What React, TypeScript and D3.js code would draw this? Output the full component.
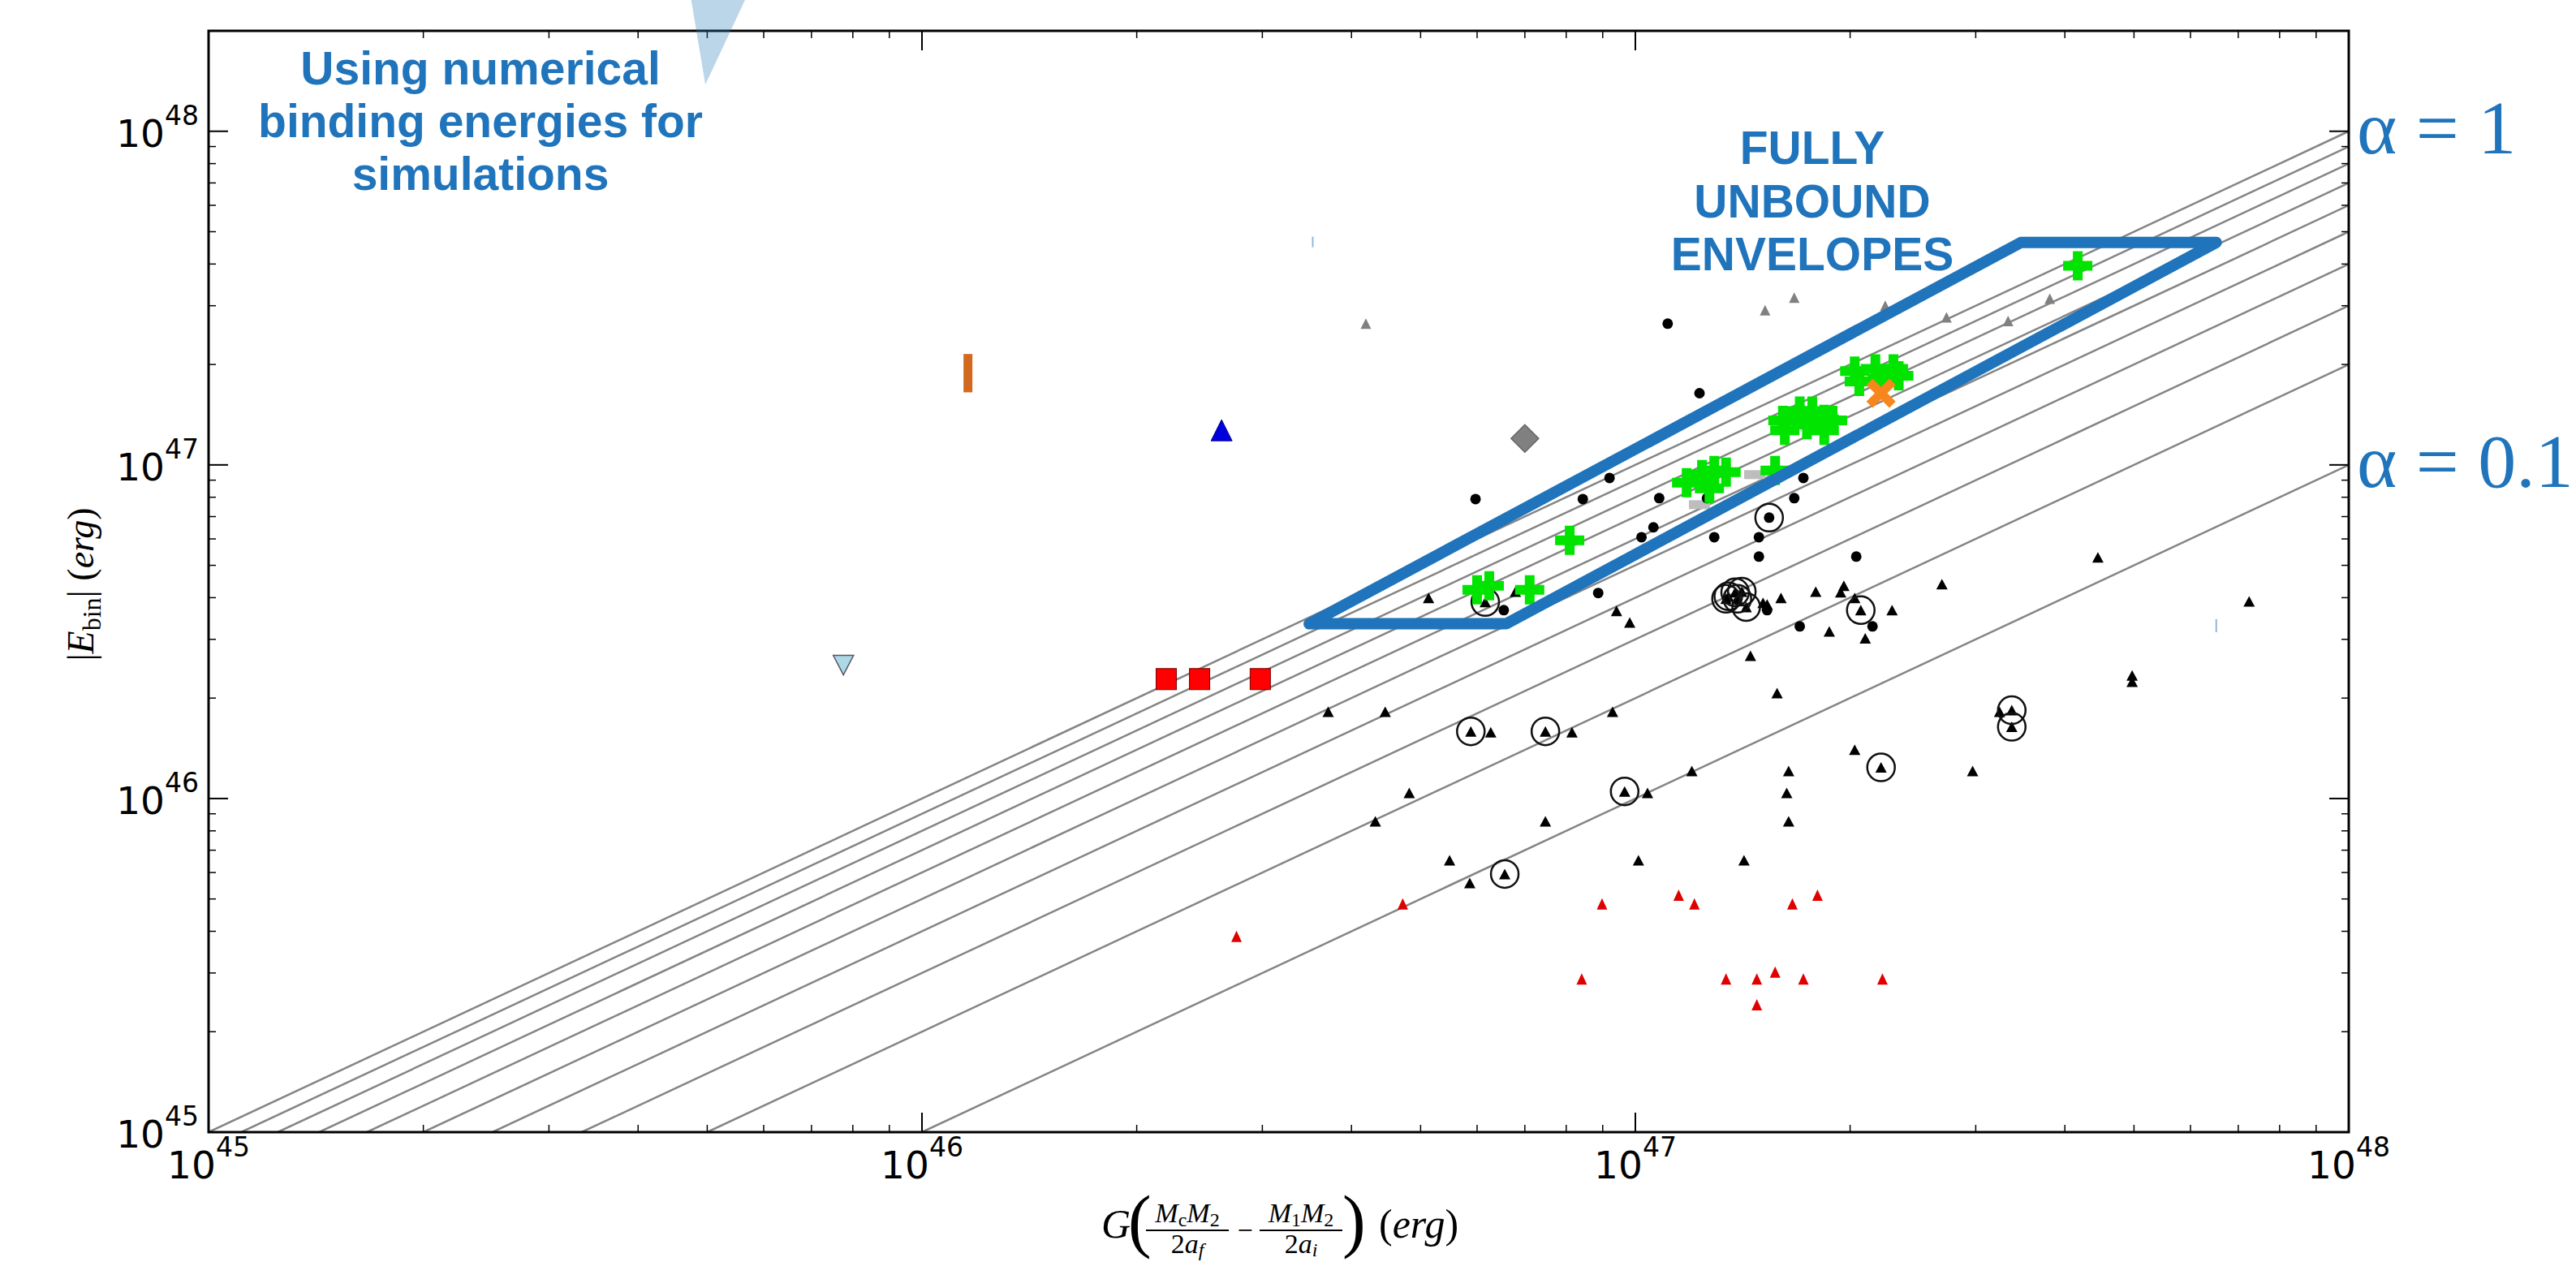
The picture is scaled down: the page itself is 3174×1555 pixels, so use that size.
import React from 'react';
import * as d3 from 'd3';

const WIDTH = 3174;
const HEIGHT = 1555;
const PLOT = { left: 257, right: 2894, top: 38, bottom: 1395 };

const X_DOMAIN: [number, number] = [1e45, 1e48];
const Y_DOMAIN: [number, number] = [1e45, 2e48];

const majorTicks = [1e45, 1e46, 1e47, 1e48];
const tickExponents = ['45', '46', '47', '48'];
const alphaValues = [0.1, 0.2, 0.3, 0.4, 0.5, 0.6, 0.7, 0.8, 0.9, 1.0];
const alphaLabels: [string, number][] = [['α = 1', 1e48], ['α = 0.1', 1e47]];

const blackDots: [number, number][] = [
  [1.11e47, 2.65e47], [1.23e47, 1.64e47], [5.97e46, 7.90e46], [8.44e46, 7.90e46],
  [9.20e46, 9.14e46], [1.08e47, 7.95e46], [1.26e47, 7.95e46], [1.06e47, 6.50e46],
  [1.02e47, 6.07e46], [1.29e47, 6.07e46], [1.49e47, 6.07e46], [1.49e47, 5.31e46],
  [1.72e47, 9.14e46], [1.67e47, 7.95e46], [8.87e46, 4.13e46], [6.54e46, 3.67e46],
  [2.04e47, 5.31e46], [1.53e47, 3.67e46], [1.70e47, 3.28e46], [2.15e47, 3.28e46],
  [1.54e47, 6.95e46],
];
const circledDots: [number, number][] = [[1.54e47, 6.95e46]];

const blackTriangles: [number, number][] = [
  [5.13e46, 3.99e46], [6.16e46, 3.88e46], [6.79e46, 4.17e46], [9.41e46, 3.65e46],
  [9.82e46, 3.37e46], [1.35e47, 4.04e46], [1.38e47, 4.15e46], [1.41e47, 4.17e46],
  [1.39e47, 3.97e46], [1.43e47, 3.75e46], [1.34e47, 3.97e46], [1.51e47, 3.86e46],
  [1.53e47, 3.82e46], [1.60e47, 3.99e46], [1.79e47, 4.17e46], [1.96e47, 4.34e46],
  [1.94e47, 4.15e46], [2.03e47, 3.99e46], [2.07e47, 3.67e46], [2.29e47, 3.67e46],
  [1.87e47, 3.17e46], [2.10e47, 3.02e46], [1.45e47, 2.68e46], [1.58e47, 2.07e46],
  [4.45e47, 5.28e46], [7.25e47, 3.90e46], [2.69e47, 4.39e46], [4.97e47, 2.34e46],
  [4.97e47, 2.24e46], [3.71e46, 1.82e46], [4.46e46, 1.82e46], [9.29e46, 1.82e46],
  [5.88e46, 1.59e46], [6.27e46, 1.58e46], [7.48e46, 1.59e46], [8.15e46, 1.58e46],
  [3.37e47, 1.84e46], [3.37e47, 1.64e46], [3.24e47, 1.82e46], [2.03e47, 1.40e46],
  [2.21e47, 1.24e46], [2.97e47, 1.21e46], [1.20e47, 1.21e46], [1.64e47, 1.21e46],
  [4.82e46, 1.04e46], [9.66e46, 1.05e46], [1.04e47, 1.04e46], [1.63e47, 1.04e46],
  [4.32e46, 8.55e45], [7.48e46, 8.55e45], [1.64e47, 8.55e45], [5.49e46, 6.53e45],
  [1.01e47, 6.53e45], [1.42e47, 6.53e45], [6.56e46, 5.94e45], [5.86e46, 5.58e45],
];
const circledTriangles: [number, number][] = [
  [6.16e46, 3.88e46], [1.35e47, 4.04e46], [1.38e47, 4.15e46], [1.41e47, 4.17e46],
  [1.39e47, 3.97e46], [1.43e47, 3.75e46], [1.34e47, 3.97e46], [2.07e47, 3.67e46],
  [5.88e46, 1.59e46], [7.48e46, 1.59e46], [3.37e47, 1.84e46], [3.37e47, 1.64e46],
  [2.21e47, 1.24e46], [9.66e46, 1.05e46], [6.56e46, 5.94e45],
];

const redTriangles: [number, number][] = [
  [4.72e46, 4.83e45], [8.98e46, 4.83e45], [1.15e47, 5.13e45], [1.21e47, 4.83e45],
  [1.66e47, 4.83e45], [1.80e47, 5.13e45], [2.76e46, 3.86e45], [8.41e46, 2.88e45],
  [1.34e47, 2.88e45], [1.48e47, 2.88e45], [1.57e47, 3.02e45], [1.72e47, 2.88e45],
  [2.22e47, 2.88e45], [1.48e47, 2.41e45],
];
const grayTriangles: [number, number][] = [
  [4.19e46, 2.65e47], [1.52e47, 2.91e47], [1.67e47, 3.17e47], [2.24e47, 3.00e47],
  [2.73e47, 2.77e47], [3.33e47, 2.70e47], [3.81e47, 3.15e47],
];
const greenPluses: [number, number][] = [
  [4.17e47, 3.95e47], [7.11e46, 4.22e46], [6.00e46, 4.22e46], [6.24e46, 4.34e46],
  [8.09e46, 5.94e46], [1.57e47, 9.62e46], [1.18e47, 8.84e46], [1.24e47, 9.35e46],
  [1.29e47, 9.62e46], [1.34e47, 9.51e46], [1.27e47, 8.50e46], [1.61e47, 1.36e47],
  [1.70e47, 1.45e47], [1.77e47, 1.45e47], [1.84e47, 1.37e47], [1.74e47, 1.32e47],
  [1.89e47, 1.36e47], [1.62e47, 1.27e47], [1.84e47, 1.27e47], [2.03e47, 1.91e47],
  [2.17e47, 1.94e47], [2.30e47, 1.94e47], [2.34e47, 1.85e47], [2.06e47, 1.78e47],
  [2.22e47, 1.81e47],
];
const orangeCrosses: [number, number][] = [[2.21e47, 1.64e47]];
const grayDiamonds: [number, number][] = [[7.00e46, 1.20e47]];
const blueTriangles: [number, number][] = [[2.63e46, 1.27e47]];
const lightBlueDownTriangles: [number, number][] = [[7.76e45, 2.51e46]];
const redSquares: [number, number][] = [[2.20e46, 2.28e46], [2.45e46, 2.28e46], [2.98e46, 2.28e46]];
const orangeBars: [number, number, number][] = [[1.16e46, 1.65e47, 2.15e47]];
const grayBars: [number, number][] = [[1.47e47, 9.35e46], [1.23e47, 7.60e46]];
const blueTicks: [number, number, number][] = [[3.53e46, 4.49e47, 4.83e47], [6.52e47, 3.15e46, 3.45e46]];
const envelopeBox: [number, number][] = [[3.49e46, 3.34e46], [6.59e46, 3.34e46], [6.52e47, 4.64e47], [3.47e47, 4.64e47]];
const pointerShape: [number, number][] = [[4.73e45, 2.6e48], [5.71e45, 2.6e48], [4.97e45, 1.38e48]];

const simulationNote = ['Using numerical', 'binding energies for', 'simulations'];
const envelopeNote = ['FULLY', 'UNBOUND', 'ENVELOPES'];

const BLUE = '#1f74bb';

const tri = (b: number, h: number) => `M0,${-h / 2}L${b / 2},${h / 2}L${-b / 2},${h / 2}Z`;
const triDown = (b: number, h: number) => `M0,${h / 2}L${b / 2},${-h / 2}L${-b / 2},${-h / 2}Z`;
const plus = (s: number, a: number) =>
  `M${-a / 2},${-s / 2}H${a / 2}V${-a / 2}H${s / 2}V${a / 2}H${a / 2}V${s / 2}H${-a / 2}V${a / 2}H${-s / 2}V${-a / 2}H${-a / 2}Z`;

export default function App() {
  const x = d3.scaleLog().domain(X_DOMAIN).range([PLOT.left, PLOT.right]);
  const y = d3.scaleLog().domain(Y_DOMAIN).range([PLOT.bottom, PLOT.top]);
  const minor: number[] = [];
  for (let e = 45; e < 48; e++) for (let k = 2; k <= 9; k++) minor.push(k * Math.pow(10, e));
  const line = d3.line<[number, number]>().x((d) => x(d[0])).y((d) => y(d[1]));

  const serif = "'Liberation Serif', 'Times New Roman', serif";
  const sans = "'DejaVu Sans', sans-serif";

  return (
    <svg width={WIDTH} height={HEIGHT} style={{ position: 'absolute', left: 0, top: 0, background: '#fff' }}>
      <rect x={0} y={0} width={WIDTH} height={HEIGHT} fill="#fff" />
      <defs>
        <clipPath id="plotclip">
          <rect x={PLOT.left} y={PLOT.top} width={PLOT.right - PLOT.left} height={PLOT.bottom - PLOT.top} />
        </clipPath>
      </defs>
      <g clipPath="url(#plotclip)">
        {alphaValues.map((a) => (
          <path key={a} d={line([[1e45 / a, 1e45], [1e48, a * 1e48]]) || ''} stroke="#858585" strokeWidth={2.5} fill="none" />
        ))}
        {grayBars.map((d, i) => (
          <rect key={'gb' + i} x={x(d[0]) - 13} y={y(d[1]) - 5.5} width={26} height={11} fill="#bdbdbd" />
        ))}
        {grayTriangles.map((d, i) => (
          <path key={'gt' + i} d={tri(13, 13)} transform={`translate(${x(d[0])},${y(d[1])})`} fill="#808080" />
        ))}
        {redTriangles.map((d, i) => (
          <path key={'rt' + i} d={tri(13, 14)} transform={`translate(${x(d[0])},${y(d[1])})`} fill="#e00000" />
        ))}
        {blackTriangles.map((d, i) => (
          <path key={'bt' + i} d={tri(14, 13)} transform={`translate(${x(d[0])},${y(d[1])})`} fill="#000" />
        ))}
        {blackDots.map((d, i) => (
          <circle key={'bd' + i} cx={x(d[0])} cy={y(d[1])} r={6.5} fill="#000" />
        ))}
        {[...circledTriangles, ...circledDots].map((d, i) => (
          <circle key={'oc' + i} cx={x(d[0])} cy={y(d[1])} r={17} fill="none" stroke="#111" strokeWidth={2.5} />
        ))}
        {greenPluses.map((d, i) => (
          <path key={'gp' + i} d={plus(36, 12)} transform={`translate(${x(d[0])},${y(d[1])})`} fill="#00e400" />
        ))}
        {orangeCrosses.map((d, i) => (
          <path key={'ox' + i} d={plus(40, 11)} transform={`translate(${x(d[0])},${y(d[1])}) rotate(45)`} fill="#f7861c" />
        ))}
        {grayDiamonds.map((d, i) => (
          <path key={'gd' + i} d="M0,-17L17,0L0,17L-17,0Z" transform={`translate(${x(d[0])},${y(d[1])})`} fill="#808080" stroke="#666" strokeWidth={1.5} />
        ))}
        {blueTriangles.map((d, i) => (
          <path key={'blt' + i} d={tri(26, 26)} transform={`translate(${x(d[0])},${y(d[1])})`} fill="#0000dd" stroke="#000088" strokeWidth={1} />
        ))}
        {lightBlueDownTriangles.map((d, i) => (
          <path key={'lbt' + i} d={triDown(25, 24)} transform={`translate(${x(d[0])},${y(d[1])})`} fill="#add8e6" stroke="#556" strokeWidth={1.5} />
        ))}
        {redSquares.map((d, i) => (
          <rect key={'rs' + i} x={x(d[0]) - 12.5} y={y(d[1]) - 13} width={25} height={26} fill="#ff0000" stroke="#700" strokeWidth={1} />
        ))}
        {orangeBars.map((d, i) => (
          <line key={'ob' + i} x1={x(d[0])} x2={x(d[0])} y1={y(d[1])} y2={y(d[2])} stroke="#d2691e" strokeWidth={11} />
        ))}
        {blueTicks.map((d, i) => (
          <line key={'bk' + i} x1={x(d[0])} x2={x(d[0])} y1={y(d[1])} y2={y(d[2])} stroke="#8fb8dc" strokeWidth={2} />
        ))}
      </g>

      <path d={(line(envelopeBox) || '') + 'Z'} fill="none" stroke={BLUE} strokeWidth={14} strokeLinejoin="round" />

      <rect x={PLOT.left} y={PLOT.top} width={PLOT.right - PLOT.left} height={PLOT.bottom - PLOT.top} fill="none" stroke="#000" strokeWidth={3} />

      {majorTicks.map((v) => (
        <g key={'mx' + v}>
          <line x1={x(v)} x2={x(v)} y1={PLOT.bottom} y2={PLOT.bottom - 24} stroke="#000" strokeWidth={2} />
          <line x1={x(v)} x2={x(v)} y1={PLOT.top} y2={PLOT.top + 24} stroke="#000" strokeWidth={2} />
          <line y1={y(v)} y2={y(v)} x1={PLOT.left} x2={PLOT.left + 24} stroke="#000" strokeWidth={2} />
          <line y1={y(v)} y2={y(v)} x1={PLOT.right} x2={PLOT.right - 24} stroke="#000" strokeWidth={2} />
        </g>
      ))}
      {minor.map((v) => (
        <g key={'mn' + v}>
          <line x1={x(v)} x2={x(v)} y1={PLOT.bottom} y2={PLOT.bottom - 9} stroke="#000" strokeWidth={1.5} />
          <line x1={x(v)} x2={x(v)} y1={PLOT.top} y2={PLOT.top + 9} stroke="#000" strokeWidth={1.5} />
          <line y1={y(v)} y2={y(v)} x1={PLOT.left} x2={PLOT.left + 9} stroke="#000" strokeWidth={1.5} />
          <line y1={y(v)} y2={y(v)} x1={PLOT.right} x2={PLOT.right - 9} stroke="#000" strokeWidth={1.5} />
        </g>
      ))}

      {majorTicks.map((v, i) => (
        <text key={'xl' + v} x={x(v)} y={PLOT.bottom + 57} textAnchor="middle" fontFamily={sans} fontSize={47} fill="#000">
          10<tspan fontSize={33} dy={-27}>{tickExponents[i]}</tspan>
        </text>
      ))}
      {majorTicks.map((v, i) => (
        <text key={'yl' + v} x={PLOT.left - 12} y={y(v) + 19} textAnchor="end" fontFamily={sans} fontSize={47} fill="#000">
          10<tspan fontSize={33} dy={-27}>{tickExponents[i]}</tspan>
        </text>
      ))}

      <text transform="translate(115,720) rotate(-90)" textAnchor="middle" fontFamily={serif} fontSize={46} fill="#000">
        |<tspan fontStyle="italic">E</tspan><tspan fontSize={32} dy={9}>bin</tspan><tspan dy={-9}>| (</tspan><tspan fontStyle="italic">erg</tspan>)
      </text>

      <g fontFamily={serif} fill="#000">
        <text x={1357} y={1525} fontSize={50} fontStyle="italic">G</text>
        <text x={1390} y={1533} fontSize={86}>(</text>
        <text x={1463} y={1506} fontSize={34} textAnchor="middle">
          <tspan fontStyle="italic">M</tspan><tspan fontSize={24} dy={5}>c</tspan><tspan fontStyle="italic" dy={-5}>M</tspan><tspan fontSize={24} dy={5}>2</tspan>
        </text>
        <line x1={1412} x2={1514} y1={1516} y2={1516} stroke="#000" strokeWidth={2} />
        <text x={1534} y={1527} fontSize={34} textAnchor="middle">−</text>
        <text x={1603} y={1506} fontSize={34} textAnchor="middle">
          <tspan fontStyle="italic">M</tspan><tspan fontSize={24} dy={5}>1</tspan><tspan fontStyle="italic" dy={-5}>M</tspan><tspan fontSize={24} dy={5}>2</tspan>
        </text>
        <line x1={1552} x2={1654} y1={1516} y2={1516} stroke="#000" strokeWidth={2} />
        <text x={1463} y={1544} fontSize={34} textAnchor="middle">
          2<tspan fontStyle="italic">a</tspan><tspan fontSize={24} fontStyle="italic" dy={4}>f</tspan>
        </text>
        <text x={1603} y={1544} fontSize={34} textAnchor="middle">
          2<tspan fontStyle="italic">a</tspan><tspan fontSize={24} fontStyle="italic" dy={4}>i</tspan>
        </text>
        <text x={1654} y={1533} fontSize={86}>)</text>
        <text x={1699} y={1525} fontSize={50}>
          (<tspan fontStyle="italic">erg</tspan>)
        </text>
      </g>

      {alphaLabels.map(([t, v]) => (
        <text key={t} x={2904} y={y(v) + 27} fontFamily={serif} fontSize={94} fill={BLUE}>{t}</text>
      ))}

      {simulationNote.map((t, i) => (
        <text key={t} x={592} y={104 + i * 65} textAnchor="middle" fontFamily="'Liberation Sans', Arial, sans-serif" fontWeight="bold" fontSize={57} fill={BLUE}>{t}</text>
      ))}
      {envelopeNote.map((t, i) => (
        <text key={t} x={2233} y={202 + i * 65.5} textAnchor="middle" fontFamily="'Liberation Sans', Arial, sans-serif" fontWeight="bold" fontSize={57} fill={BLUE}>{t}</text>
      ))}
      <path d={(line(pointerShape) || '') + 'Z'} fill="#2b7bba" fillOpacity={0.32} />
    </svg>
  );
}
